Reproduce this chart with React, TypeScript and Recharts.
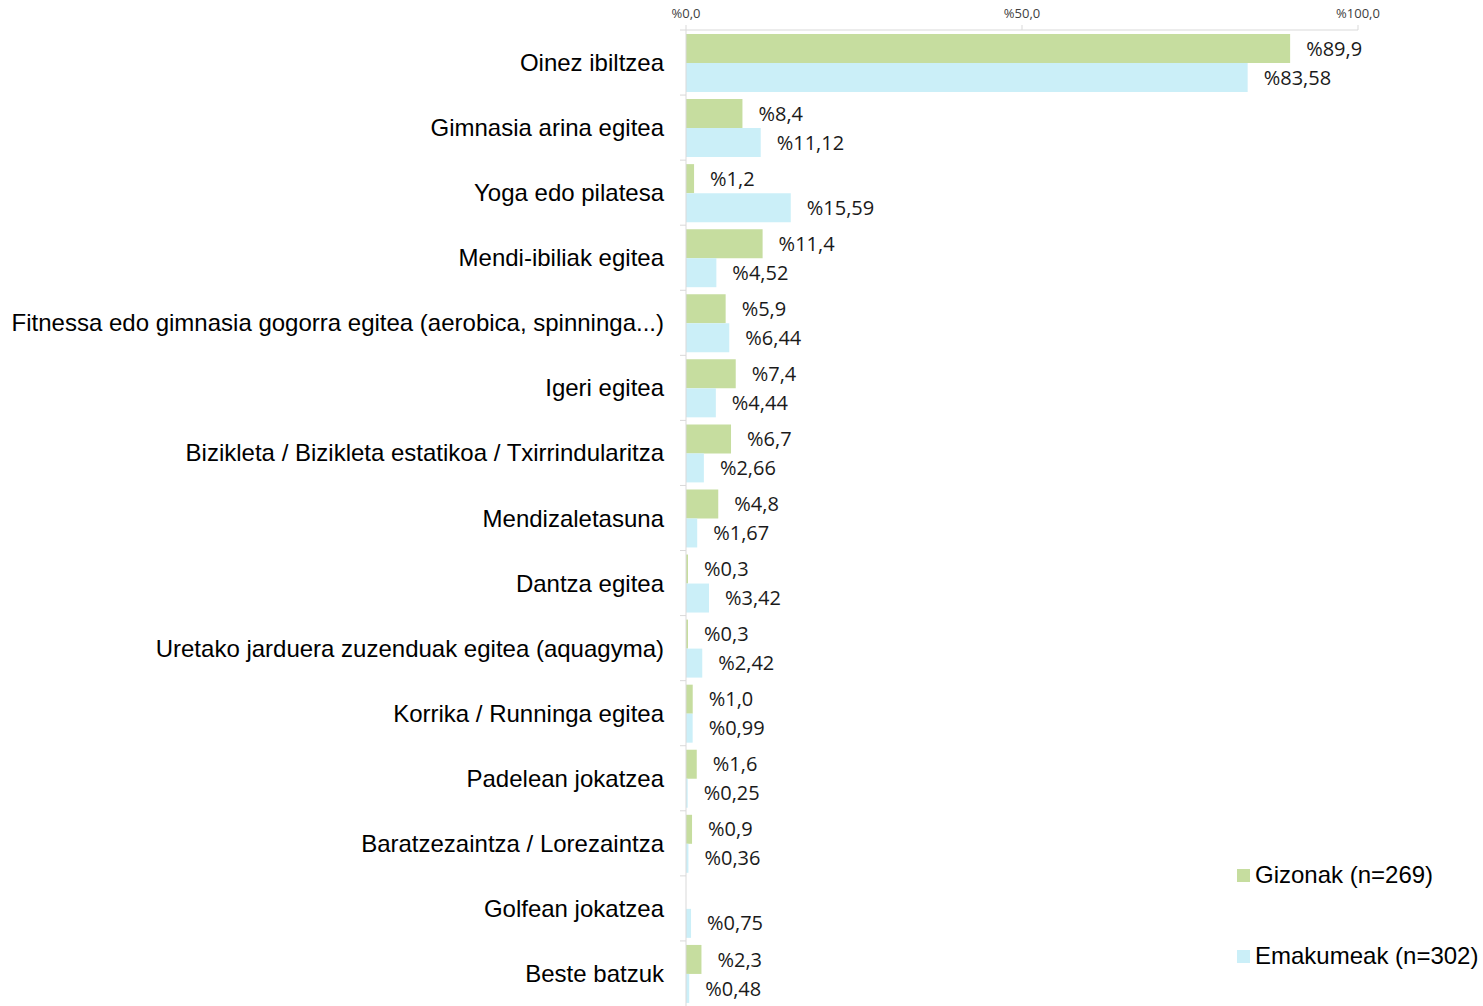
import React from 'react';
import { BarChart, Bar, XAxis, YAxis, LabelList } from 'recharts';

// Activity categories, top to bottom
const categories = [
  'Oinez ibiltzea',
  'Gimnasia arina egitea',
  'Yoga edo pilatesa',
  'Mendi-ibiliak egitea',
  'Fitnessa edo gimnasia gogorra egitea (aerobica, spinninga...)',
  'Igeri egitea',
  'Bizikleta / Bizikleta estatikoa / Txirrindularitza',
  'Mendizaletasuna',
  'Dantza egitea',
  'Uretako jarduera zuzenduak egitea (aquagyma)',
  'Korrika / Runninga egitea',
  'Padelean jokatzea',
  'Baratzezaintza / Lorezaintza',
  'Golfean jokatzea',
  'Beste batzuk',
];

const gizonak = [89.9, 8.4, 1.2, 11.4, 5.9, 7.4, 6.7, 4.8, 0.3, 0.3, 1.0, 1.6, 0.9, null, 2.3];
const emakumeak = [83.58, 11.12, 15.59, 4.52, 6.44, 4.44, 2.66, 1.67, 3.42, 2.42, 0.99, 0.25, 0.36, 0.75, 0.48];

const seriesNames = ['Gizonak (n=269)', 'Emakumeak (n=302)'];
const xTicks = [0, 50, 100];

const GREEN = '#c6dd9f';
const BLUE = '#cbeff8';
const AXIS = '#d9d9d9';

const WIDTH = 1483;
const HEIGHT = 1006;
const TOP = 30;
const BAND = (HEIGHT - TOP) / categories.length;

const data = categories.map((name, i) => ({
  name,
  gizonak: gizonak[i],
  emakumeak: emakumeak[i],
}));

const pct = (v: unknown, digits: number) =>
  v === null || v === undefined ? '' : '%' + Number(v).toFixed(digits).replace('.', ',');

const CategoryTick = (props: any) => {
  const { x, y, payload } = props;
  return (
    <g>
      <line x1={680} x2={686} y1={y - BAND / 2} y2={y - BAND / 2} stroke={AXIS} />
      <text
        x={x}
        y={y}
        textAnchor="end"
        dominantBaseline="central"
        fontFamily="'Liberation Sans', Arial, sans-serif"
        fontSize={24}
        fill="#000"
      >
        {payload.value}
      </text>
    </g>
  );
};

const labelStyle = { fontFamily: "'Open Sans', sans-serif", fontSize: 20, fill: '#1a1a1a' };

export default function App() {
  return (
    <div style={{ position: 'absolute', left: 0, top: 0, width: WIDTH, height: HEIGHT, background: '#fff' }}>
      <BarChart
        width={WIDTH}
        height={HEIGHT}
        data={data}
        layout="vertical"
        margin={{ top: 0, right: 125, bottom: 0, left: 0 }}
        barGap={0}
      >
        <XAxis
          type="number"
          orientation="top"
          height={TOP}
          domain={[0, 100]}
          ticks={xTicks}
          tickFormatter={(v) => pct(v, 1)}
          axisLine={{ stroke: AXIS }}
          tickLine={{ stroke: AXIS }}
          tickSize={5}
          tickMargin={7}
          tick={{ fontFamily: "'Open Sans', sans-serif", fontSize: 13, fill: '#404040' }}
        />
        <YAxis
          type="category"
          dataKey="name"
          width={686}
          axisLine={{ stroke: AXIS }}
          tickLine={false}
          tickSize={0}
          tickMargin={22}
          interval={0}
          tick={<CategoryTick />}
        />
        <Bar dataKey="gizonak" name={seriesNames[0]} fill={GREEN} barSize={29} isAnimationActive={false}>
          <LabelList
            dataKey="gizonak"
            position="right"
            offset={16}
            formatter={(v: unknown) => pct(v, 1)}
            style={labelStyle}
          />
        </Bar>
        <Bar dataKey="emakumeak" name={seriesNames[1]} fill={BLUE} barSize={29} isAnimationActive={false}>
          <LabelList
            dataKey="emakumeak"
            position="right"
            offset={16}
            formatter={(v: unknown) => pct(v, 2)}
            style={labelStyle}
          />
        </Bar>
      </BarChart>
      {/* legend, bottom right */}
      {seriesNames.map((name, i) => (
        <div
          key={name}
          style={{
            position: 'absolute',
            left: 1237,
            top: i === 0 ? 861 : 942,
            display: 'flex',
            alignItems: 'center',
            fontFamily: "'Liberation Sans', Arial, sans-serif",
            fontSize: 24,
            color: '#000',
            whiteSpace: 'nowrap',
          }}
        >
          <span style={{ width: 13, height: 13, background: i === 0 ? GREEN : BLUE, marginRight: 5 }} />
          {name}
        </div>
      ))}
    </div>
  );
}
